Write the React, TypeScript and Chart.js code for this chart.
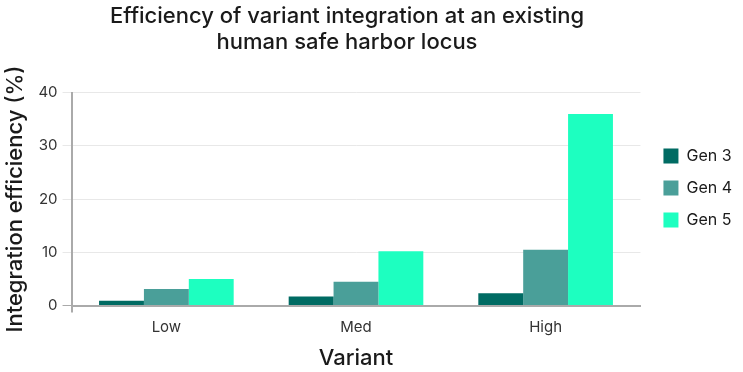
import React, { useEffect, useRef } from "react";
import { Chart, registerables } from "chart.js";

Chart.register(...registerables);

const categories = ["Low", "Med", "High"];
const gen3 = [0.9, 1.7, 2.3];
const gen4 = [3.1, 4.5, 10.5];
const gen5 = [5.0, 10.2, 36.0];
const seriesLabels = ["Gen 3", "Gen 4", "Gen 5"];
const seriesColors = ["#006b63", "#4a9f99", "#1dffc0"];
const titleLines = ["Efficiency of variant integration at an existing", "human safe harbor locus"];

const shiftPlugin = {
  id: "shiftBoxes",
  afterLayout(chart: any) {
    const lg = chart.legend;
    if (lg) {
      lg.left += 7;
      lg.right += 7;
    }
    const tb = chart.titleBlock;
    if (tb) {
      tb.left -= 9;
      tb.right -= 9;
    }
  },
};

export default function App() {
  const ref = useRef<HTMLCanvasElement>(null);
  useEffect(() => {
    document.body.style.margin = "0";
    const font = "Inter, 'Noto Sans', sans-serif";
    const chart = new Chart(ref.current!, {
      type: "bar",
      data: {
        labels: categories,
        datasets: [gen3, gen4, gen5].map((d, i) => ({
          label: seriesLabels[i],
          data: d,
          backgroundColor: seriesColors[i],
          borderWidth: 0,
          barPercentage: 1,
          categoryPercentage: 0.71,
        })),
      },
      plugins: [shiftPlugin],
      options: {
        animation: false,
        responsive: false,
        maintainAspectRatio: false,
        layout: { padding: { top: 4, right: 8, bottom: 0, left: 2 } },
        plugins: {
          title: {
            display: true,
            text: titleLines,
            fullSize: false,
            color: "#1a1a1a",
            font: { family: font, size: 22, weight: "500" as any, lineHeight: 1.15 },
            padding: { top: 0, bottom: 38 },
          },
          legend: {
            position: "right",
            labels: {
              color: "#1a1a1a",
              font: { family: font, size: 16 },
              boxWidth: 15,
              boxHeight: 15,
              padding: 16,
            },
          },
          tooltip: { enabled: false },
        },
        scales: {
          x: {
            border: { color: "#aaaaaa", width: 2 },
            grid: {
              display: true,
              drawOnChartArea: false,
              tickLength: 7,
              color: (ctx: any) => (ctx.index === 0 ? "#aaaaaa" : "rgba(0,0,0,0)"),
              lineWidth: 2,
            },
            ticks: { color: "#333333", font: { family: font, size: 15 }, padding: 6 },
            title: {
              display: true,
              text: "Variant",
              color: "#1a1a1a",
              font: { family: font, size: 22, weight: "500" as any },
              padding: { top: 3, bottom: 0 },
            },
          },
          y: {
            min: 0,
            max: 40,
            ticks: { stepSize: 10, color: "#333333", font: { family: font, size: 15 }, padding: 5 },
            border: { color: "#aaaaaa", width: 2 },
            grid: {
              color: (ctx: any) => (ctx.tick && ctx.tick.value === 0 ? "#aaaaaa" : "#e8e8e8"),
              tickLength: 9,
            },
            title: {
              display: true,
              text: "Integration efficiency (%)",
              color: "#1a1a1a",
              font: { family: font, size: 22, weight: "500" as any },
              padding: { top: 0, bottom: 5 },
            },
          },
        },
      },
    });
    return () => chart.destroy();
  }, []);
  return (
    <div style={{ width: 743, height: 372 }}>
      <canvas ref={ref} width={743} height={372} style={{ display: "block" }} />
    </div>
  );
}
